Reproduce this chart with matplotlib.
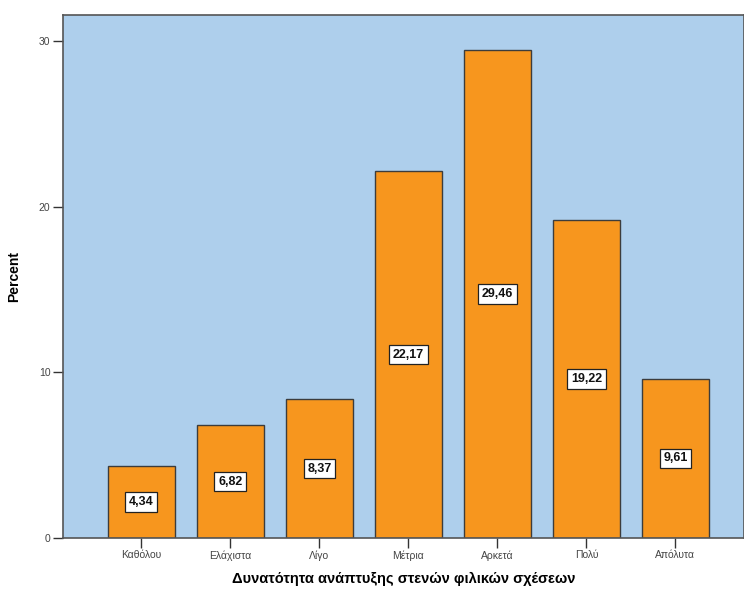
import numpy as np
import matplotlib.pyplot as plt

plt.rcParams['font.family'] = ['Liberation Sans', 'DejaVu Sans']

categories = ['Καθόλου', 'Ελάχιστα', 'Λίγο', 'Μέτρια', 'Αρκετά', 'Πολύ', 'Απόλυτα']
percent = [4.34, 6.82, 8.37, 22.17, 29.46, 19.22, 9.61]
y_ticks = [0, 10, 20, 30]

fig = plt.figure(figsize=(7.44, 5.92), dpi=100)
ax = fig.add_axes([63 / 744, 54 / 592, 681 / 744, 523 / 592])
ax.set_facecolor('#aecfec')

x = np.arange(len(categories))
bars = ax.bar(x, percent, width=0.75, color='#f7961e', edgecolor='#3c3c3c',
              linewidth=1.0, zorder=2)

# value labels in white boxes at half bar height
for xi, v in zip(x, percent):
    ax.text(xi, v / 2, f'{v:.2f}'.replace('.', ','), ha='center', va='center',
            fontsize=9, fontweight='bold', color='#111111', zorder=3,
            bbox=dict(boxstyle='square,pad=0.3', fc='white', ec='#222222', lw=0.9))

ax.set_xlim(-0.88, 6.77)
ax.set_ylim(0, 31.6)
ax.set_xticks(x)
ax.set_xticklabels(categories, fontsize=7.5, color='#444444')
ax.set_yticks(y_ticks)
ax.set_yticklabels([str(t) for t in y_ticks], fontsize=7.5, color='#444444')
ax.tick_params(axis='both', direction='out', length=7, width=1, color='#333333', pad=2)

for side in ['left', 'bottom', 'top', 'right']:
    ax.spines[side].set_color('#555555')
    ax.spines[side].set_linewidth(1.2)

ax.set_xlabel('Δυνατότητα ανάπτυξης στενών φιλικών σχέσεων', fontsize=10.5,
              fontweight='bold', labelpad=8)
ax.set_ylabel('Percent', fontsize=10, fontweight='bold')
ax.yaxis.set_label_coords(-0.062, 0.5)

fig.savefig('out.png', dpi=100)
